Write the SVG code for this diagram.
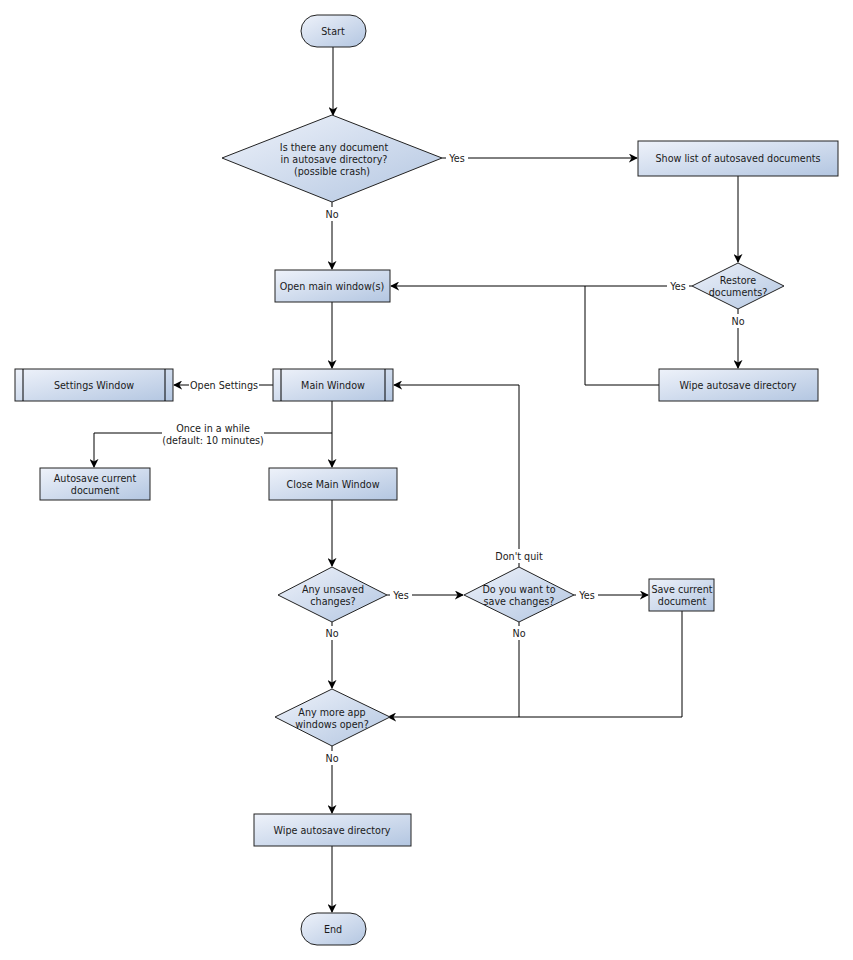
<svg xmlns="http://www.w3.org/2000/svg" width="853" height="960" viewBox="0 0 853 960">
<defs>
<linearGradient id="g" x1="0" y1="0" x2="1" y2="1">
<stop offset="0" stop-color="#eef2fa"/>
<stop offset="1" stop-color="#b3c6e1"/>
</linearGradient>
<marker id="arr" viewBox="0 0 10 10" refX="9" refY="5" markerWidth="9" markerHeight="9" markerUnits="userSpaceOnUse" orient="auto">
<path d="M0,0 L10,5 L0,10 L3,5 Z" fill="#000"/>
</marker>
<style>
.s{fill:url(#g);stroke:#222;stroke-width:1}
.t{font-family:"DejaVu Sans",sans-serif;font-size:9.6px;fill:#1a1a1a;text-anchor:middle;dominant-baseline:central}
.c{fill:none;stroke:#000;stroke-width:1}
.a{marker-end:url(#arr)}
.lb{font-family:"DejaVu Sans",sans-serif;font-size:9.6px;fill:#1a1a1a;text-anchor:middle;dominant-baseline:central}
</style>
</defs>
<rect width="853" height="960" fill="#fff"/>
<g id="connectors">
<path class="c a" d="M333,47 V115"/>
<path class="c a" d="M442,158 H637"/>
<path class="c a" d="M332,202 V269"/>
<path class="c a" d="M738,176 V262"/>
<path class="c a" d="M692,286 H391"/>
<path class="c a" d="M738,309 V368"/>
<path class="c" d="M659,385 H585 V286"/>
<path class="c a" d="M332,302 V368"/>
<path class="c a" d="M273,385 H174"/>
<path class="c a" d="M332,401 V467"/>
<path class="c a" d="M332,433 H94 V467"/>
<path class="c a" d="M332,500 V566"/>
<path class="c a" d="M387,595 H463"/>
<path class="c a" d="M574,595 H648"/>
<path class="c a" d="M519,567 V385 H394"/>
<path class="c a" d="M682,611 V717 H388"/>
<path class="c" d="M519,622 V717"/>
<path class="c a" d="M332,622 V688"/>
<path class="c a" d="M332,746 V813"/>
<path class="c a" d="M332,846 V912"/>
<g>
<rect x="446" y="151" width="22" height="14" fill="#fff"/><text class="lb" x="457" y="158">Yes</text>
<rect x="323" y="207" width="18" height="14" fill="#fff"/><text class="lb" x="332" y="214">No</text>
<rect x="667" y="279" width="22" height="14" fill="#fff"/><text class="lb" x="678" y="286">Yes</text>
<rect x="729" y="314" width="18" height="14" fill="#fff"/><text class="lb" x="738" y="321">No</text>
<rect x="189" y="378" width="70" height="14" fill="#fff"/><text class="lb" x="224" y="385">Open Settings</text>
<rect x="162" y="421" width="102" height="26" fill="#fff"/><text class="lb" x="213" y="428">Once in a while</text><text class="lb" x="213" y="440">(default: 10 minutes)</text>
<rect x="390" y="588" width="22" height="14" fill="#fff"/><text class="lb" x="401" y="595">Yes</text>
<rect x="576" y="588" width="22" height="14" fill="#fff"/><text class="lb" x="587" y="595">Yes</text>
<rect x="492" y="549" width="54" height="14" fill="#fff"/><text class="lb" x="519" y="556">Don't quit</text>
<rect x="323" y="626" width="18" height="14" fill="#fff"/><text class="lb" x="332" y="633">No</text>
<rect x="510" y="626" width="18" height="14" fill="#fff"/><text class="lb" x="519" y="633">No</text>
<rect x="323" y="751" width="18" height="14" fill="#fff"/><text class="lb" x="332" y="758">No</text>
</g>
</g>
<g id="start"><rect class="s" x="301" y="15" width="65" height="32" rx="16"/><text class="t" x="333" y="31">Start</text></g>
<g id="q-doc"><polygon class="s" points="332,115 442,158 332,202 222,158"/><text class="t" x="334" y="147">Is there any document</text><text class="t" x="334" y="159">in autosave directory?</text><text class="t" x="332" y="171">(possible crash)</text></g>
<g id="show-list"><rect class="s" x="638" y="141" width="200" height="35"/><text class="t" x="738" y="158">Show list of autosaved documents</text></g>
<g id="q-restore"><polygon class="s" points="738,263 784,286 738,309 692,286"/><text class="t" x="738" y="280">Restore</text><text class="t" x="738" y="292">documents?</text></g>
<g id="wipe1"><rect class="s" x="659" y="369" width="159" height="32"/><text class="t" x="738" y="385">Wipe autosave directory</text></g>
<g id="open-main"><rect class="s" x="275" y="270" width="115" height="32"/><text class="t" x="332" y="286">Open main window(s)</text></g>
<g id="main-window"><rect class="s" x="273" y="369" width="120" height="32"/><path class="c" d="M281,369 V401 M385,369 V401" stroke="#222"/><text class="t" x="333" y="385">Main Window</text></g>
<g id="settings-window"><rect class="s" x="15" y="369" width="158" height="32"/><path class="c" d="M23,369 V401 M165,369 V401" stroke="#222"/><text class="t" x="94" y="385">Settings Window</text></g>
<g id="autosave"><rect class="s" x="40" y="468" width="110" height="32"/><text class="t" x="95" y="478">Autosave current</text><text class="t" x="95" y="490">document</text></g>
<g id="close-main"><rect class="s" x="269" y="468" width="128" height="32"/><text class="t" x="333" y="484">Close Main Window</text></g>
<g id="q-unsaved"><polygon class="s" points="332,567 387,595 332,622 278,595"/><text class="t" x="333" y="589">Any unsaved</text><text class="t" x="333" y="601">changes?</text></g>
<g id="q-save"><polygon class="s" points="519,567 574,595 519,622 464,595"/><text class="t" x="519" y="589">Do you want to</text><text class="t" x="519" y="601">save changes?</text></g>
<g id="save-doc"><rect class="s" x="649" y="579" width="65" height="32"/><text class="t" x="682" y="589">Save current</text><text class="t" x="682" y="601">document</text></g>
<g id="q-more"><polygon class="s" points="332,689 390,717 332,746 275,717"/><text class="t" x="332" y="712">Any more app</text><text class="t" x="332" y="724">windows open?</text></g>
<g id="wipe2"><rect class="s" x="254" y="814" width="157" height="32"/><text class="t" x="332" y="830">Wipe autosave directory</text></g>
<g id="end"><rect class="s" x="301" y="913" width="65" height="32" rx="16"/><text class="t" x="333" y="929">End</text></g>
</svg>
